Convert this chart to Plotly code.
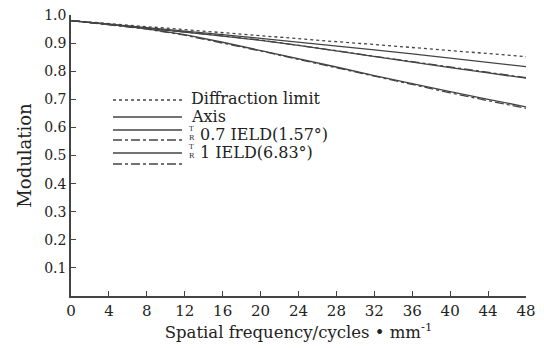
import plotly.graph_objects as go

freq = [0, 4, 8, 12, 16, 20, 24, 28, 32, 36, 40, 44, 48]
diffraction = [0.980, 0.969, 0.959, 0.948, 0.937, 0.927, 0.916, 0.905, 0.895, 0.884, 0.873, 0.863, 0.852]
axis_mtf = [0.980, 0.968, 0.956, 0.943, 0.930, 0.917, 0.904, 0.890, 0.876, 0.862, 0.847, 0.832, 0.816]
f07_t = [0.980, 0.967, 0.953, 0.939, 0.925, 0.910, 0.892, 0.872, 0.851, 0.832, 0.813, 0.794, 0.775]
f07_r = [0.980, 0.967, 0.954, 0.940, 0.926, 0.911, 0.893, 0.873, 0.853, 0.834, 0.815, 0.796, 0.777]
f1_t = [0.980, 0.967, 0.951, 0.930, 0.903, 0.874, 0.845, 0.815, 0.784, 0.755, 0.727, 0.700, 0.673]
f1_r = [0.980, 0.966, 0.950, 0.928, 0.901, 0.872, 0.842, 0.812, 0.781, 0.751, 0.723, 0.695, 0.668]

x_ticks = [0, 4, 8, 12, 16, 20, 24, 28, 32, 36, 40, 44, 48]
y_ticks = [0.1, 0.2, 0.3, 0.4, 0.5, 0.6, 0.7, 0.8, 0.9, 1.0]
y_ticklabels = ["0.1", "0.2", "0.3", "0.4", "0.5", "0.6", "0.7", "0.8", "0.9", "1.0"]

col = "#444444"
series = [
    ("Diffraction limit", diffraction, "dot"),
    ("Axis", axis_mtf, "solid"),
    ("T 0.7 IELD", f07_t, "solid"),
    ("R 0.7 IELD", f07_r, "dashdot"),
    ("T 1 IELD", f1_t, "solid"),
    ("R 1 IELD", f1_r, "dashdot"),
]

fig = go.Figure()
for name, vals, dash in series:
    fig.add_trace(go.Scatter(x=freq, y=vals, mode="lines", name=name,
                             line=dict(color=col, width=1.3, dash=dash),
                             showlegend=False))

# page body has an 8px default margin
OFF = 8
W, H = 544 - OFF, 348 - OFF
L, T = 71 - OFF, 15 - OFF
R = W - (526 - OFF)
B = H - (296 - OFF)
pw, ph = W - L - R, H - T - B

def px(x):
    return (x - OFF - L) / pw

def py(y):
    return 1 - (y - OFF - T) / ph

font = "DejaVu Serif, Liberation Serif, serif"
shapes = []
annotations = []
legend_lines = [(100, "dot"), (117, "solid"), (130, "solid"), (140, "dashdot"), (153, "solid"), (164, "dashdot")]
for yy, dash in legend_lines:
    shapes.append(dict(type="line", xref="paper", yref="paper",
                       x0=px(113), x1=px(182), y0=py(yy), y1=py(yy),
                       line=dict(color=col, width=1.3, dash=dash)))

def text(x, y, s, size=16):
    annotations.append(dict(x=px(x), y=py(y), xref="paper", yref="paper",
                            text=s, showarrow=False, xanchor="left", yanchor="middle",
                            font=dict(family=font, size=size, color="#222222")))

text(189, 99, "Diffraction limit")
text(189, 116, "Axis")
text(198, 134, "0.7 IELD(1.57°)")
text(198, 152, "1 IELD(6.83°)")
text(187, 129, "T", 7)
text(187, 138, "R", 7)
text(187, 147, "T", 7)
text(187, 156, "R", 7)

fig.update_layout(
    width=W, height=H,
    margin=dict(l=L, r=R, t=T, b=B, autoexpand=False),
    plot_bgcolor="white", paper_bgcolor="white",
    font=dict(family=font, size=15, color="#222222"),
    shapes=shapes, annotations=annotations,
    xaxis=dict(range=[0, 48], tickvals=x_ticks, ticks="inside", ticklen=5,
               tickcolor=col, showline=True, linecolor=col, linewidth=1.5,
               showgrid=False, zeroline=False, tickfont=dict(size=15), automargin=False,
               ticklabeloverflow="allow",
               title=dict(text="Spatial frequency/cycles • mm<sup>-1</sup>", standoff=6,
                          font=dict(size=16.5))),
    yaxis=dict(range=[0, 1.0], tickvals=y_ticks, ticktext=y_ticklabels, ticks="inside",
               ticklen=5, tickcolor=col, showline=True, linecolor=col, linewidth=1.5,
               showgrid=False, zeroline=False, tickfont=dict(size=14), automargin=False,
               ticklabeloverflow="allow",
               title=dict(text="Modulation", standoff=8, font=dict(size=18))),
)

fig.write_html("out.html")
